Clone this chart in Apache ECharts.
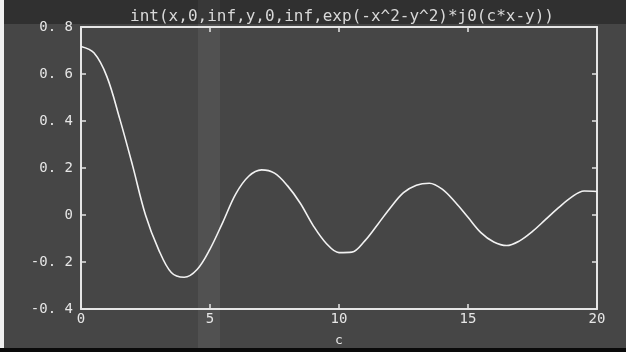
<!DOCTYPE html>
<html>
<head>
<meta charset="utf-8">
<script src="https://cdn.jsdelivr.net/npm/echarts@6/dist/echarts.min.js"></script>
<style>
  html, body { margin: 0; padding: 0; background: #000; }
  #chart { width: 626px; height: 352px; }
</style>
</head>
<body>
<div id="chart"></div>
<script>
// values
const cVals = [0, 0.5, 1, 1.5, 2, 2.5, 3, 3.5, 4, 4.5, 5, 5.5, 6, 6.5, 7, 7.5, 8, 8.5, 9, 9.5,
  10, 10.5, 11, 11.5, 12, 12.5, 13, 13.5, 14, 14.5, 15, 15.5, 16, 16.5, 17, 17.5, 18, 18.5, 19, 19.5, 20]
const intVals = [0.717, 0.69, 0.59, 0.41, 0.21, 0.0, -0.145, -0.245, -0.265, -0.232, -0.145, -0.03,
  0.09, 0.165, 0.192, 0.178, 0.125, 0.05, -0.045, -0.12, -0.16, -0.158, -0.11, -0.04, 0.032,
  0.095, 0.127, 0.135, 0.11, 0.055, -0.01, -0.075, -0.115, -0.13, -0.11, -0.07, -0.02, 0.03,
  0.075, 0.102, 0.1]
const yTicks = ['-0. 4', '-0. 2', '0', '0. 2', '0. 4', '0. 6', '0. 8']
const chartTitle = 'int(x,0,inf,y,0,inf,exp(-x^2-y^2)*j0(c*x-y))'

const mono = 'DejaVu Sans Mono'
const fg = '#e6e6e6'

const chart = echarts.init(document.getElementById('chart'))

const tickStyle = { inside: true, length: 5, lineStyle: { color: fg, width: 1.5 } }
const axisLine = { show: true, onZero: false, lineStyle: { color: fg, width: 2 } }

const option = {
  backgroundColor: '#464646',
  animation: false,
  title: {
    text: chartTitle,
    left: 337,
    textAlign: 'center',
    top: 4,
    textStyle: { fontFamily: mono, fontSize: 16, fontWeight: 'normal', color: '#d8d8d8' }
  },
  grid: { left: 81, right: 29, top: 27, bottom: 39 },
  xAxis: [
    {
      type: 'value',
      min: 0,
      max: 20,
      interval: 5,
      name: 'c',
      nameLocation: 'middle',
      nameGap: 25,
      nameTextStyle: { fontFamily: mono, fontSize: 13, color: fg },
      axisLine,
      axisTick: tickStyle,
      axisLabel: { fontFamily: mono, fontSize: 14, color: fg, margin: 3 },
      splitLine: { show: false }
    },
    {
      type: 'value',
      position: 'top',
      min: 0,
      max: 20,
      interval: 5,
      axisLine,
      axisTick: tickStyle,
      axisLabel: { show: false },
      splitLine: { show: false }
    }
  ],
  yAxis: [
    {
      type: 'value',
      min: -0.4,
      max: 0.8,
      interval: 0.2,
      axisLine,
      axisTick: tickStyle,
      axisLabel: {
        fontFamily: mono,
        fontSize: 14,
        color: fg,
        margin: 8,
        formatter: (v, i) => yTicks[i]
      },
      splitLine: { show: false }
    },
    {
      type: 'value',
      position: 'right',
      min: -0.4,
      max: 0.8,
      interval: 0.2,
      axisLine,
      axisTick: tickStyle,
      axisLabel: { show: false },
      splitLine: { show: false }
    }
  ],
  graphic: [
    // scan artefacts: light band, white left edge, dark bottom strip, dark title band
    { type: 'rect', shape: { x: 198, y: 0, width: 22, height: 352 }, style: { fill: 'rgba(150,150,150,0.14)' }, silent: true, z: -1 },
    { type: 'rect', shape: { x: 0, y: 0, width: 4, height: 352 }, style: { fill: '#f0f0f0' }, silent: true },
    { type: 'rect', shape: { x: 0, y: 348, width: 626, height: 4 }, style: { fill: '#0a0a0a' }, silent: true },
    { type: 'rect', shape: { x: 0, y: 0, width: 626, height: 24 }, style: { fill: 'rgba(0,0,0,0.3)' }, silent: true, z: -1 }
  ],
  series: [
    {
      type: 'line',
      xAxisIndex: 0,
      yAxisIndex: 0,
      data: cVals.map((c, i) => [c, intVals[i]]),
      smooth: 0.35,
      showSymbol: false,
      lineStyle: { color: '#f2f2f2', width: 1.6 }
    }
  ]
}
chart.setOption(option)
</script>
</body>
</html>
